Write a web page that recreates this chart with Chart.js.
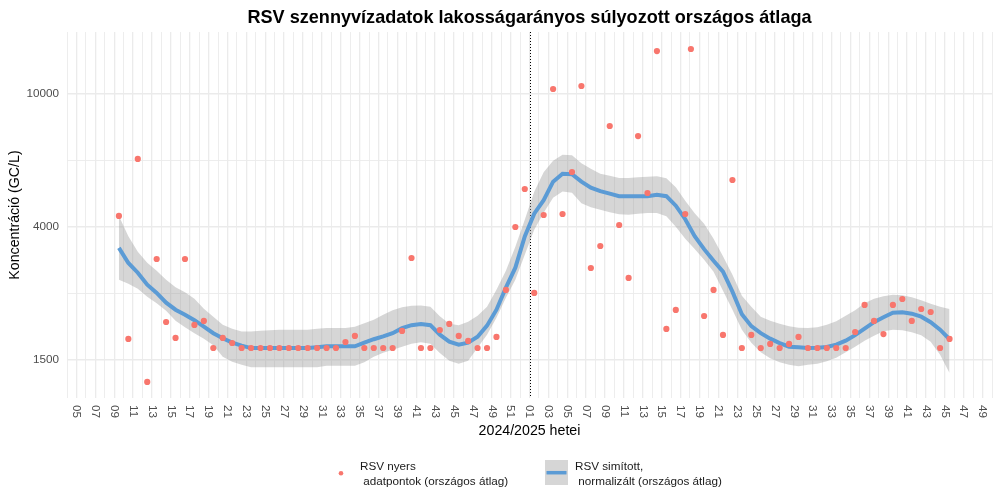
<!DOCTYPE html>
<html lang="hu">
<head>
<meta charset="UTF-8">
<title>RSV szennyvízadatok lakosságarányos súlyozott országos átlaga</title>
<script src="https://cdn.jsdelivr.net/npm/chart.js"></script>
<style>
  html, body { margin: 0; padding: 0; background: #ffffff; }
  #wrap { width: 1000px; height: 500px; position: relative; }
</style>
</head>
<body>
<div id="wrap"><canvas id="rsvChart"></canvas></div>
<script>
  // x: hetek 2024 W04-tol szamolva (0 = 2024 W04, 49 = 2025 W01)
  const xMin = 0;
  const xMax = 98;
  const yearBreak = 49;

  // feliratozott hetek (minden masodik het)
  const xTickLabels = ['05','07','09','11','13','15','17','19','21','23','25','27','29','31','33','35','37','39','41','43','45','47','49','51',
                       '01','03','05','07','09','11','13','15','17','19','21','23','25','27','29','31','33','35','37','39','41','43','45','47','49'];

  // y tengely: log skala, torespontok es feliratok
  const yMin = 1218;
  const yMax = 15365;
  const yTickValues = [1585, 3981, 10000];
  const yTickLabels = ['1500', '4000', '10000'];
  const yMinorValues = [2512, 6310];

  // nyers adatpontok (het, GC/L)
  const rawWeeks = [5,6,7,8,9,10,11,12,13,14,15,16,17,18,19,20,21,22,23,24,25,26,27,28,29,30,31,32,33,34,35,36,37,38,39,40,
                    41,42,43,44,45,46,47,48,49,50,51,52,53,54,55,56,57,58,59,60,61,62,63,64,65,65.6,67,68,69,70,71,72,73,74,75,
                    76,77,78,79,80,81,82,83,84,85,86,87,88,89,90,91,92,93];
  const rawValues = [4297,1834,6378,1361,3190,2062,1846,3190,2020,2077,1722,1846,1783,1722,1722,1722,1722,1722,1722,1722,1722,1722,1722,1722,
                     1795,1872,1722,1722,1722,1722,1938,3212,1722,1722,1951,2034,1872,1808,1722,1722,1859,2574,3981,5179,2521,4326,
                     10353,4356,5827,10570,2997,3490,8013,4036,2797,7475,5038,13468,1965,2241,4356,13656,2149,2574,1885,5513,1722,
                     1885,1722,1771,1722,1771,1859,1722,1722,1722,1722,1722,1924,2320,2077,1897,2320,2418,2077,2256,2210,1722,1834];

  // simitott gorbe es konfidenciasav (5. hettol a 93.-ig, hetente)
  const smoothStart = 5;
  const smoothFit = [3444,3103,2901,2670,2521,2357,2245,2169,2088,1996,1908,1843,1787,1750,1721,1721,1721,1721,1721,1721,1721,1732,
                     1742,1742,1742,1742,1787,1830,1866,1908,1976,2017,2034,2017,1888,1800,1762,1787,1862,2010,2245,2615,3004,3731,
                     4367,4794,5450,5759,5739,5450,5228,5102,5015,4929,4922,4922,4929,4980,4929,4615,4202,3736,3415,3152,2922,2544,
                     2177,2003,1908,1837,1781,1738,1732,1722,1726,1734,1762,1812,1882,1969,2059,2132,2199,2204,2184,2139,2059,1955,1830];
  const smoothHigh = [4297,3731,3356,3109,2942,2764,2624,2535,2423,2261,2139,2024,1969,1932,1932,1941,1948,1955,1955,1955,1955,1969,
                      1978,1978,1978,1996,2045,2095,2169,2237,2284,2308,2313,2292,2144,2038,2017,2067,2154,2292,2579,2942,3475,4187,
                      5085,5820,6302,6569,6547,6194,5963,5759,5680,5591,5591,5622,5641,5661,5583,5246,4777,4380,4074,3672,3252,2861,
                      2474,2292,2139,2081,2038,2003,1983,1978,1989,2024,2074,2154,2237,2349,2423,2465,2491,2482,2448,2398,2340,2292,2256];
  const smoothLow = [2764,2689,2597,2457,2349,2230,2081,1989,1908,1837,1756,1622,1566,1534,1506,1506,1506,1506,1506,1506,1506,1506,
                     1524,1524,1524,1524,1561,1622,1667,1702,1738,1774,1791,1774,1664,1577,1545,1577,1726,1888,2125,2440,2764,3286,
                     3907,4397,4878,5095,5050,4696,4568,4489,4412,4351,4336,4367,4388,4388,4291,3990,3672,3420,3174,2922,2561,2245,
                     1955,1787,1673,1605,1561,1534,1518,1534,1545,1570,1610,1673,1738,1812,1875,1935,1955,1948,1921,1882,1799,1644,1448];

  const FONT = '"Liberation Sans", Arial, sans-serif';
  const pointColor = '#F8766D';
  const lineColor = '#5B9BD5';
  const bandColor = 'rgba(153,153,153,0.4)';
  const gridColor = '#EBEBEB';

  // het kozepe (a pontok a het kozepen ulnek)
  const midWeek = 0.5;
  const rawPoints = rawWeeks.map((w, i) => ({ x: w + midWeek, y: rawValues[i] }));
  const toXY = arr => arr.map((v, i) => ({ x: smoothStart + i + midWeek, y: v }));

  const decor = {
    id: 'decor',
    beforeDatasetsDraw(chart) {
      const { ctx, chartArea: a, scales: { x } } = chart;
      const px = Math.round(x.getPixelForValue(yearBreak)) + 0.5;
      ctx.save();
      ctx.strokeStyle = '#000000';
      ctx.lineWidth = 1;
      ctx.setLineDash([1, 2]);
      ctx.beginPath();
      ctx.moveTo(px, a.top);
      ctx.lineTo(px, a.bottom);
      ctx.stroke();
      ctx.restore();
    },
    afterDraw(chart) {
      const { ctx, chartArea: a, scales: { x } } = chart;
      ctx.save();

      // cim
      ctx.fillStyle = '#000000';
      ctx.font = 'bold 18.1px ' + FONT;
      ctx.textAlign = 'center';
      ctx.textBaseline = 'alphabetic';
      ctx.fillText('RSV szennyvízadatok lakosságarányos súlyozott országos átlaga', (a.left + a.right) / 2, 22.5);

      // x tengely feliratai, 90 fokkal elforgatva
      ctx.fillStyle = '#4D4D4D';
      ctx.font = '11.7px ' + FONT;
      ctx.textAlign = 'left';
      ctx.textBaseline = 'middle';
      xTickLabels.forEach((lab, i) => {
        const px = x.getPixelForValue(1 + 2 * i);
        ctx.save();
        ctx.translate(px, a.bottom + 7);
        ctx.rotate(Math.PI / 2);
        ctx.fillText(lab, 0, 0);
        ctx.restore();
      });

      // tengelycimek
      ctx.fillStyle = '#000000';
      ctx.font = '14.2px ' + FONT;
      ctx.textAlign = 'center';
      ctx.fillText('2024/2025 hetei', (a.left + a.right) / 2, 431);
      ctx.save();
      ctx.translate(15.5, (a.top + a.bottom) / 2);
      ctx.rotate(-Math.PI / 2);
      ctx.fillText('Koncentráció (GC/L)', 0, 0);
      ctx.restore();

      // jelmagyarazat
      ctx.fillStyle = pointColor;
      ctx.beginPath();
      ctx.arc(341, 473.3, 2.3, 0, Math.PI * 2);
      ctx.fill();

      ctx.fillStyle = bandColor;
      ctx.fillRect(545, 460, 23, 25);
      ctx.strokeStyle = lineColor;
      ctx.lineWidth = 3.5;
      ctx.beginPath();
      ctx.moveTo(546.5, 472.7);
      ctx.lineTo(566.5, 472.7);
      ctx.stroke();

      ctx.fillStyle = '#1A1A1A';
      ctx.font = '11.7px ' + FONT;
      ctx.textAlign = 'left';
      ctx.fillText('RSV nyers', 360, 466.5);
      ctx.fillText(' adatpontok (országos átlag)', 360, 481.5);
      ctx.fillText('RSV simított,', 575, 466.5);
      ctx.fillText(' normalizált (országos átlag)', 575, 481.5);

      ctx.restore();
    }
  };

  const chart = new Chart(document.getElementById('rsvChart'), {
    type: 'scatter',
    data: {
      datasets: [
        {
          label: 'RSV nyers adatpontok (országos átlag)',
          data: rawPoints,
          backgroundColor: pointColor,
          borderWidth: 0,
          pointRadius: 3.1,
          order: 0
        },
        {
          type: 'line',
          label: 'RSV simított, normalizált (országos átlag)',
          data: toXY(smoothFit),
          borderColor: lineColor,
          borderWidth: 4,
          pointRadius: 0,
          tension: 0,
          fill: false,
          order: 1
        },
        {
          type: 'line',
          label: 'felső',
          data: toXY(smoothHigh),
          borderWidth: 0,
          pointRadius: 0,
          tension: 0,
          backgroundColor: bandColor,
          fill: '+1',
          order: 2
        },
        {
          type: 'line',
          label: 'alsó',
          data: toXY(smoothLow),
          borderWidth: 0,
          pointRadius: 0,
          tension: 0,
          fill: false,
          order: 3
        }
      ]
    },
    options: {
      responsive: true,
      maintainAspectRatio: false,
      animation: false,
      events: [],
      layout: { padding: { top: 32, right: 8, bottom: 102, left: 0 } },
      plugins: {
        legend: { display: false },
        title: { display: false },
        tooltip: { enabled: false }
      },
      scales: {
        x: {
          type: 'linear',
          min: xMin,
          max: xMax,
          afterBuildTicks: s => {
            const t = [];
            for (let v = xMin; v <= xMax; v++) t.push({ value: v });
            s.ticks = t;
          },
          afterFit: s => { s.height = 0; },
          ticks: { display: false },
          grid: {
            color: gridColor,
            lineWidth: c => (c.tick && c.tick.value % 2 === 0) ? 0.9 : 1.3,
            drawTicks: false
          },
          border: { display: false }
        },
        y: {
          type: 'logarithmic',
          min: yMin,
          max: yMax,
          afterBuildTicks: s => {
            s.ticks = yTickValues.concat(yMinorValues).sort((p, q) => p - q).map(v => ({ value: v }));
          },
          afterFit: s => { s.width = 67; },
          ticks: {
            autoSkip: false,
            padding: 8,
            color: '#4D4D4D',
            font: { family: FONT, size: 11.7 },
            callback: v => {
              const i = yTickValues.indexOf(v);
              return i >= 0 ? yTickLabels[i] : '';
            }
          },
          grid: {
            color: gridColor,
            lineWidth: c => (c.tick && yMinorValues.includes(c.tick.value)) ? 0.9 : 1.4,
            drawTicks: false
          },
          border: { display: false }
        }
      }
    },
    plugins: [decor]
  });
</script>
</body>
</html>
